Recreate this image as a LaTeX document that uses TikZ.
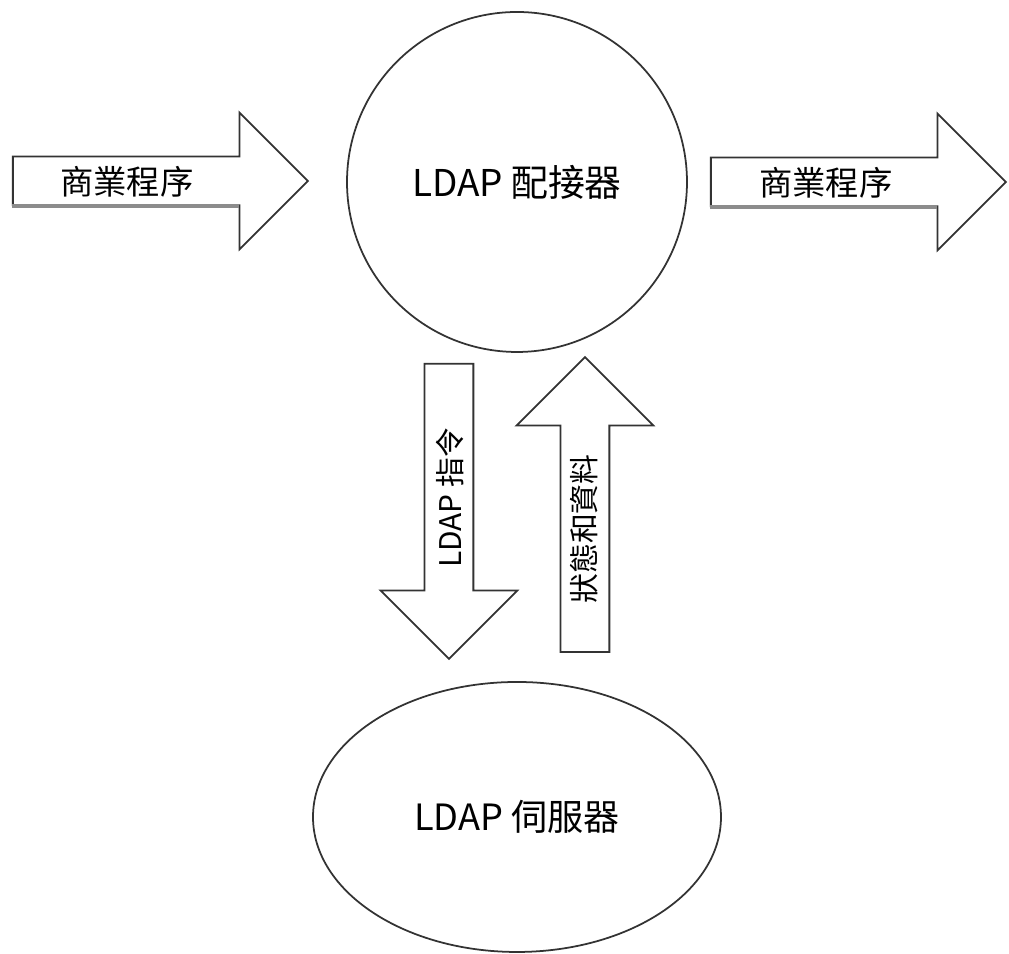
\documentclass[tikz,border=0pt]{standalone}
\usepackage{fontspec}
\setmainfont{Noto Sans CJK TC}
\usetikzlibrary{shapes.arrows, shapes.geometric, positioning}

\begin{document}
\begin{tikzpicture}[line width=0.5pt,
	blockarrow/.style={single arrow, draw=black!80, fill=white, minimum height=2.95cm, minimum width=1.35cm,
		single arrow head extend=0.44cm, inner sep=0pt},
	arrowtext/.style={inner sep=0pt, font=\fontsize{#1}{11}\selectfont}]
	\useasboundingbox (0,0) rectangle (10.09,-9.54);
	\node[circle,draw=black!80,minimum size=3.4cm,inner sep=0pt,font=\fontsize{10.5}{12}\selectfont] (adapter) at (5.17,-1.82) {LDAP 配接器};
	\node[ellipse,draw=black!80,minimum width=4.08cm,minimum height=2.7cm,inner sep=0pt,font=\fontsize{10.3}{12}\selectfont] (server) at (5.17,-8.17) {LDAP 伺服器};
	\foreach \nm/\px/\py/\rot/\brot/\tx/\ty/\fs/\txt in {appin/0.12/-1.81/0/0/1.27/-1.82/9.5/商業程序,
		appout/7.10/-1.82/0/0/8.26/-1.83/9.5/商業程序,
		cmd/4.49/-3.63/90/180/4.50/-4.98/8.5/LDAP 指令, stat/5.85/-6.53/90/0/5.84/-5.29/8.5/狀態和資料}
		{\node[blockarrow, anchor=tail, rotate=\rot, shape border rotate=\brot] (\nm) at (\px,\py) {\rule{0pt}{0.47cm}};
		\node[arrowtext=\fs, rotate=\rot] (\nm txt) at (\tx,\ty) {\txt};}
	% darker lower edge of the flat shafts
	\foreach \nm in {appin, appout}{\draw[black!45, line width=1pt] ([yshift=-0.25cm]\nm.tail) -- ++(2.27,0);}
\end{tikzpicture}
\end{document}
